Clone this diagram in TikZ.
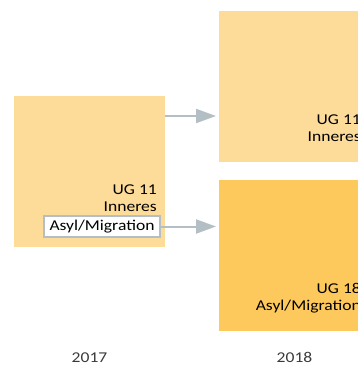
\documentclass[tikz,border=0pt]{standalone}
\usepackage{fontspec}
\setmainfont{Carlito}[FakeStretch=1.17]
\usetikzlibrary{arrows.meta,positioning}
\definecolor{lightbox}{HTML}{FDDC99}
\definecolor{darkbox}{HTML}{FEC95C}
\definecolor{arrowgray}{HTML}{B3BEC5}
\definecolor{yeargray}{HTML}{3A3A3A}
\begin{document}
\begin{tikzpicture}[x=1pt,y=-1pt,
  box/.style={minimum width=151pt, minimum height=151pt, inner sep=0pt, anchor=north west},
  boxtext/.style={anchor=base east, inner sep=0pt, font=\fontsize{15}{17}\selectfont, text=black},
  year/.style={anchor=base, inner sep=0pt, font=\fontsize{15}{17}\selectfont, text=yeargray},
  flow/.style={-{Triangle[length=20pt,width=14pt]}, line width=2pt, draw=arrowgray, shorten >=3pt}]
\useasboundingbox (0,0) rectangle (358,365);
\clip (0,0) rectangle (358,365);

% Boxes
\node[box, fill=lightbox] (old) at (14,96) {};
\node[box, fill=lightbox] (inner) at (219,11) {};
\node[box, fill=darkbox] (asylum) at (219,180) {};

% 2017 labels
\node[boxtext] (oldug) at (157,194) {UG 11};
\node[boxtext] (oldname) at (157,211) {Inneres};
\node[draw=arrowgray, line width=1.2pt, fill=white, minimum width=116pt, minimum height=21pt,
  inner sep=0pt, font=\fontsize{15}{17}\selectfont, text=black] (oldasyl) at (102,226.5) {Asyl/Migration};

% 2018 labels
\node[boxtext] (innerug) at (361,124) {UG 11};
\node[boxtext] (innername) at (361,141) {Inneres};
\node[boxtext] (asylumug) at (361,293) {UG 18};
\node[boxtext] (asylumname) at (361,310) {Asyl/Migration};

% Arrows
\draw[flow] (old.east |- 0,116) -- (inner.west |- 0,116);
\draw[flow] (oldasyl.east) -- (asylum.west |- oldasyl.east);

% Years
\node[year] (y2017) at (89.5,362) {2017};
\node[year] (y2018) at (294.5,362) {2018};
\end{tikzpicture}
\end{document}
